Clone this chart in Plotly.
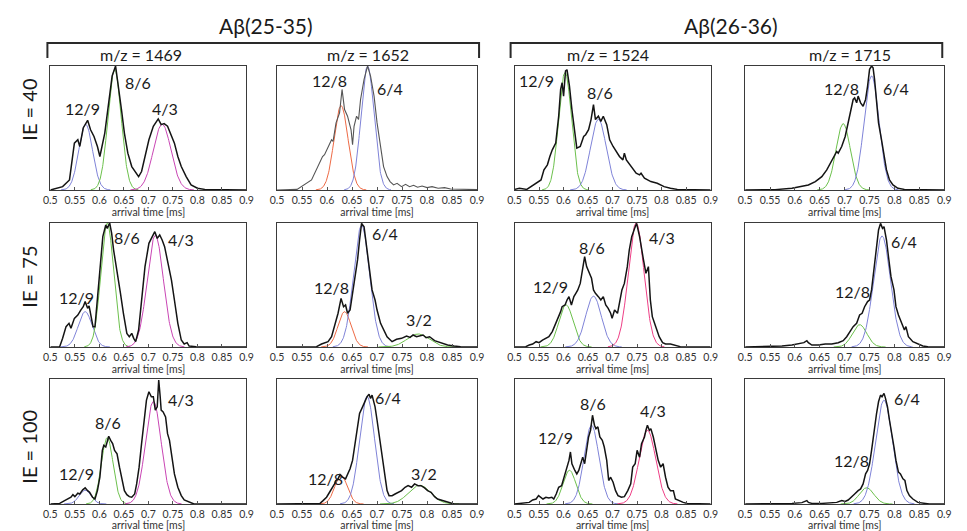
import numpy as np
import plotly.graph_objects as go

# ---------------------------------------------------------------------------
# Arrival-time distributions (normalised intensity) for each peptide / m/z
# and each injection energy (IE).
# ---------------------------------------------------------------------------
t_1469_ie40 = [0.500, 0.512, 0.525, 0.539, 0.549, 0.556, 0.560, 0.567, 0.576, 0.582, 0.589, 0.596, 0.601,
               0.611, 0.619, 0.626, 0.633, 0.639, 0.645, 0.651, 0.658, 0.666, 0.676, 0.680, 0.686, 0.693,
               0.701, 0.710, 0.720, 0.726, 0.732, 0.739, 0.747, 0.753, 0.760, 0.767, 0.777, 0.787, 0.800,
               0.815, 0.900]
i_1469_ie40 = [0.0, 0.014, 0.027, 0.081, 0.378, 0.405, 0.351, 0.50, 0.562, 0.486, 0.432, 0.351, 0.27,
               0.459, 0.73, 0.919, 1.0, 0.838, 0.649, 0.459, 0.297, 0.189, 0.135, 0.108, 0.149, 0.27,
               0.405, 0.514, 0.573, 0.527, 0.535, 0.514, 0.432, 0.378, 0.27, 0.189, 0.108, 0.041, 0.014,
               0.005, 0.0]

t_1652_ie40 = [0.500, 0.540, 0.569, 0.582, 0.591, 0.595, 0.602, 0.609, 0.612, 0.618, 0.625, 0.630, 0.635,
               0.641, 0.648, 0.651, 0.654, 0.659, 0.663, 0.667, 0.674, 0.681, 0.687, 0.694, 0.700, 0.707,
               0.713, 0.720, 0.726, 0.733, 0.740, 0.749, 0.757, 0.765, 0.773, 0.781, 0.790, 0.800, 0.810,
               0.822, 0.835, 0.847, 0.870, 0.900]
i_1652_ie40 = [0.0, 0.005, 0.081, 0.189, 0.27, 0.284, 0.351, 0.405, 0.392, 0.541, 0.622, 0.811, 0.649,
               0.595, 0.486, 0.365, 0.514, 0.595, 0.568, 0.73, 0.892, 1.0, 0.919, 0.757, 0.541, 0.351,
               0.189, 0.108, 0.068, 0.041, 0.054, 0.027, 0.046, 0.027, 0.038, 0.022, 0.032, 0.019, 0.027,
               0.014, 0.019, 0.008, 0.005, 0.003]

t_1524_ie40 = [0.500, 0.510, 0.525, 0.540, 0.547, 0.554, 0.560, 0.567, 0.572, 0.577, 0.584, 0.590, 0.594,
               0.597, 0.600, 0.604, 0.607, 0.612, 0.617, 0.624, 0.627, 0.634, 0.641, 0.645, 0.651, 0.656,
               0.661, 0.665, 0.671, 0.676, 0.681, 0.688, 0.694, 0.701, 0.708, 0.714, 0.721, 0.724, 0.728,
               0.735, 0.741, 0.748, 0.755, 0.758, 0.765, 0.778, 0.791, 0.805, 0.818, 0.832, 0.900]
i_1524_ie40 = [0.005, 0.014, 0.005, 0.041, 0.059, 0.081, 0.162, 0.203, 0.27, 0.324, 0.378, 0.595, 0.811,
               0.865, 0.757, 0.96, 0.97, 0.838, 0.649, 0.459, 0.338, 0.351, 0.432, 0.446, 0.486, 0.568,
               0.689, 0.568, 0.595, 0.554, 0.595, 0.527, 0.405, 0.351, 0.311, 0.27, 0.243, 0.297, 0.243,
               0.203, 0.176, 0.135, 0.122, 0.135, 0.095, 0.068, 0.054, 0.027, 0.014, 0.005, 0.0]

t_1715_ie40 = [0.500, 0.560, 0.594, 0.614, 0.627, 0.641, 0.654, 0.664, 0.671, 0.677, 0.684, 0.687, 0.694,
               0.701, 0.707, 0.712, 0.717, 0.720, 0.724, 0.727, 0.732, 0.737, 0.742, 0.746, 0.750, 0.754,
               0.757, 0.760, 0.764, 0.768, 0.774, 0.779, 0.784, 0.790, 0.797, 0.807, 0.820, 0.900]
i_1715_ie40 = [0.0, 0.003, 0.014, 0.027, 0.041, 0.068, 0.108, 0.162, 0.216, 0.27, 0.311, 0.297, 0.351,
               0.432, 0.541, 0.622, 0.73, 0.743, 0.703, 0.757, 0.703, 0.676, 0.73, 0.838, 0.973, 1.0,
               0.986, 0.892, 0.73, 0.541, 0.405, 0.27, 0.162, 0.081, 0.041, 0.014, 0.005, 0.0]

t_1469_ie75 = [0.500, 0.519, 0.525, 0.532, 0.538, 0.542, 0.549, 0.556, 0.562, 0.567, 0.571, 0.576, 0.579,
               0.582, 0.587, 0.591, 0.596, 0.601, 0.607, 0.613, 0.616, 0.621, 0.625, 0.629, 0.636, 0.643,
               0.649, 0.656, 0.661, 0.666, 0.670, 0.674, 0.680, 0.686, 0.693, 0.701, 0.708, 0.713, 0.718,
               0.723, 0.728, 0.733, 0.740, 0.747, 0.753, 0.760, 0.767, 0.773, 0.779, 0.783, 0.797, 0.900]
i_1469_ie75 = [0.0, 0.003, 0.07, 0.164, 0.191, 0.151, 0.231, 0.258, 0.298, 0.325, 0.366, 0.312, 0.331,
               0.258, 0.164, 0.164, 0.379, 0.648, 0.89, 0.984, 0.957, 1.0, 0.917, 0.782, 0.621, 0.433,
               0.272, 0.11, 0.083, 0.11, 0.07, 0.043, 0.137, 0.379, 0.648, 0.836, 0.89, 0.93, 0.876,
               0.903, 0.863, 0.809, 0.675, 0.54, 0.379, 0.191, 0.056, 0.024, 0.035, 0.008, 0.003, 0.0]

t_1652_ie75 = [0.500, 0.560, 0.579, 0.589, 0.595, 0.602, 0.609, 0.615, 0.622, 0.628, 0.633, 0.637, 0.641,
               0.646, 0.651, 0.656, 0.661, 0.665, 0.669, 0.674, 0.679, 0.684, 0.690, 0.696, 0.700, 0.707,
               0.713, 0.720, 0.730, 0.739, 0.749, 0.759, 0.766, 0.772, 0.779, 0.785, 0.792, 0.798, 0.805,
               0.815, 0.828, 0.841, 0.854, 0.867, 0.900]
i_1652_ie75 = [0.0, 0.003, 0.003, 0.024, 0.035, 0.043, 0.083, 0.164, 0.272, 0.392, 0.325, 0.339, 0.272,
               0.298, 0.433, 0.567, 0.702, 0.863, 0.997, 0.97, 0.809, 0.621, 0.46, 0.379, 0.298, 0.191,
               0.137, 0.083, 0.043, 0.062, 0.07, 0.089, 0.078, 0.097, 0.083, 0.089, 0.097, 0.075, 0.083,
               0.051, 0.035, 0.016, 0.008, 0.003, 0.0]

t_1524_ie75 = [0.500, 0.523, 0.530, 0.537, 0.544, 0.550, 0.557, 0.564, 0.570, 0.577, 0.584, 0.589, 0.594,
               0.597, 0.603, 0.607, 0.611, 0.616, 0.621, 0.625, 0.629, 0.634, 0.639, 0.643, 0.647, 0.652,
               0.657, 0.661, 0.665, 0.671, 0.676, 0.681, 0.686, 0.691, 0.696, 0.699, 0.704, 0.710, 0.714,
               0.719, 0.724, 0.730, 0.734, 0.739, 0.745, 0.749, 0.755, 0.759, 0.763, 0.768, 0.773, 0.777,
               0.781, 0.788, 0.795, 0.802, 0.808, 0.818, 0.828, 0.838, 0.900]
i_1524_ie75 = [0.0, 0.003, 0.016, 0.024, 0.043, 0.035, 0.056, 0.07, 0.083, 0.124, 0.191, 0.231, 0.285,
               0.325, 0.339, 0.379, 0.406, 0.339, 0.406, 0.433, 0.46, 0.513, 0.621, 0.728, 0.648, 0.594,
               0.554, 0.46, 0.433, 0.406, 0.379, 0.406, 0.339, 0.312, 0.272, 0.231, 0.298, 0.272, 0.352,
               0.46, 0.513, 0.648, 0.782, 0.89, 0.957, 0.997, 0.89, 0.782, 0.702, 0.594, 0.648, 0.379,
               0.245, 0.164, 0.083, 0.035, 0.024, 0.024, 0.016, 0.003, 0.0]

t_1715_ie75 = [0.500, 0.548, 0.574, 0.594, 0.608, 0.618, 0.624, 0.627, 0.634, 0.647, 0.661, 0.674, 0.687,
               0.697, 0.704, 0.710, 0.717, 0.724, 0.730, 0.735, 0.740, 0.746, 0.750, 0.754, 0.759, 0.764,
               0.768, 0.772, 0.776, 0.779, 0.784, 0.788, 0.793, 0.799, 0.803, 0.808, 0.813, 0.820, 0.823,
               0.828, 0.837, 0.847, 0.857, 0.867, 0.900]
i_1715_ie75 = [0.0, 0.003, 0.008, 0.016, 0.024, 0.035, 0.051, 0.035, 0.016, 0.016, 0.024, 0.024, 0.035,
               0.051, 0.083, 0.124, 0.164, 0.191, 0.258, 0.272, 0.325, 0.366, 0.379, 0.46, 0.621, 0.782,
               0.944, 0.997, 0.957, 0.97, 0.863, 0.728, 0.567, 0.46, 0.325, 0.258, 0.204, 0.137, 0.164,
               0.083, 0.043, 0.024, 0.008, 0.003, 0.0]

t_1469_ie100 = [0.500, 0.519, 0.529, 0.536, 0.542, 0.546, 0.550, 0.556, 0.560, 0.566, 0.571, 0.576, 0.580,
                0.586, 0.591, 0.596, 0.601, 0.606, 0.609, 0.613, 0.616, 0.619, 0.623, 0.627, 0.631, 0.636,
                0.641, 0.646, 0.651, 0.656, 0.661, 0.666, 0.672, 0.676, 0.681, 0.686, 0.692, 0.696, 0.701,
                0.706, 0.710, 0.714, 0.718, 0.721, 0.724, 0.726, 0.730, 0.735, 0.739, 0.743, 0.748, 0.753,
                0.760, 0.767, 0.773, 0.783, 0.793, 0.900]
i_1469_ie100 = [0.0, 0.005, 0.027, 0.04, 0.054, 0.075, 0.059, 0.086, 0.08, 0.113, 0.129, 0.107, 0.094,
                0.054, 0.04, 0.107, 0.214, 0.429, 0.469, 0.456, 0.509, 0.542, 0.509, 0.483, 0.429, 0.402,
                0.295, 0.188, 0.107, 0.075, 0.059, 0.054, 0.08, 0.161, 0.295, 0.483, 0.697, 0.831, 0.898,
                0.858, 0.858, 0.751, 0.777, 0.992, 0.858, 0.751, 0.737, 0.697, 0.563, 0.509, 0.375, 0.241,
                0.134, 0.067, 0.032, 0.013, 0.0, 0.0]

t_1652_ie100 = [0.500, 0.570, 0.586, 0.592, 0.599, 0.605, 0.612, 0.615, 0.618, 0.622, 0.626, 0.631, 0.637,
                0.641, 0.646, 0.651, 0.656, 0.661, 0.665, 0.671, 0.676, 0.680, 0.684, 0.687, 0.690, 0.696,
                0.700, 0.705, 0.710, 0.716, 0.720, 0.724, 0.730, 0.736, 0.743, 0.749, 0.756, 0.762, 0.769,
                0.775, 0.782, 0.788, 0.795, 0.801, 0.808, 0.815, 0.821, 0.831, 0.841, 0.854, 0.900]
i_1652_ie100 = [0.0, 0.003, 0.005, 0.027, 0.054, 0.094, 0.134, 0.161, 0.188, 0.201, 0.236, 0.214, 0.201,
                0.241, 0.282, 0.349, 0.483, 0.617, 0.724, 0.777, 0.831, 0.858, 0.879, 0.845, 0.871, 0.777,
                0.67, 0.536, 0.402, 0.241, 0.107, 0.067, 0.067, 0.08, 0.094, 0.107, 0.134, 0.147, 0.134,
                0.161, 0.147, 0.147, 0.129, 0.107, 0.094, 0.059, 0.04, 0.027, 0.013, 0.0, 0.0]

t_1524_ie100 = [0.500, 0.517, 0.530, 0.537, 0.544, 0.549, 0.554, 0.558, 0.564, 0.570, 0.576, 0.580, 0.585,
                0.590, 0.596, 0.601, 0.605, 0.611, 0.614, 0.617, 0.623, 0.627, 0.631, 0.635, 0.639, 0.643,
                0.647, 0.651, 0.655, 0.659, 0.663, 0.666, 0.670, 0.674, 0.679, 0.683, 0.688, 0.692, 0.696,
                0.701, 0.706, 0.711, 0.718, 0.724, 0.731, 0.737, 0.741, 0.746, 0.750, 0.755, 0.759, 0.765,
                0.768, 0.771, 0.775, 0.778, 0.783, 0.788, 0.793, 0.798, 0.803, 0.808, 0.813, 0.818, 0.824,
                0.828, 0.835, 0.844, 0.852, 0.900]
i_1524_ie100 = [0.0, 0.005, 0.013, 0.032, 0.04, 0.067, 0.054, 0.04, 0.054, 0.048, 0.054, 0.04, 0.08,
                0.134, 0.147, 0.214, 0.268, 0.349, 0.416, 0.322, 0.268, 0.241, 0.268, 0.322, 0.375, 0.322,
                0.429, 0.536, 0.59, 0.71, 0.63, 0.603, 0.617, 0.536, 0.509, 0.456, 0.349, 0.188, 0.214,
                0.174, 0.107, 0.067, 0.054, 0.059, 0.107, 0.161, 0.295, 0.322, 0.429, 0.375, 0.483, 0.536,
                0.59, 0.63, 0.59, 0.603, 0.536, 0.429, 0.349, 0.295, 0.322, 0.214, 0.134, 0.107, 0.107,
                0.04, 0.027, 0.013, 0.005, 0.0]

t_1715_ie100 = [0.500, 0.561, 0.594, 0.614, 0.624, 0.627, 0.634, 0.654, 0.674, 0.684, 0.694, 0.701, 0.707,
                0.714, 0.720, 0.727, 0.732, 0.737, 0.742, 0.746, 0.750, 0.754, 0.759, 0.764, 0.768, 0.772,
                0.775, 0.779, 0.782, 0.786, 0.790, 0.795, 0.799, 0.803, 0.808, 0.812, 0.817, 0.821, 0.825,
                0.830, 0.837, 0.847, 0.857, 0.870, 0.900]
i_1715_ie100 = [0.0, 0.0, 0.005, 0.011, 0.027, 0.013, 0.005, 0.005, 0.011, 0.013, 0.027, 0.021, 0.032,
                0.054, 0.08, 0.107, 0.121, 0.161, 0.241, 0.268, 0.322, 0.429, 0.59, 0.724, 0.818, 0.871,
                0.858, 0.885, 0.845, 0.777, 0.67, 0.563, 0.456, 0.349, 0.255, 0.241, 0.201, 0.188, 0.107,
                0.067, 0.04, 0.013, 0.005, 0.0, 0.0]

# Gaussian fit components: (conformer, centre [ms], sigma [ms], amplitude)
fit_1469_ie40 = [("12/9", 0.572, 0.014, 0.53), ("8/6", 0.631, 0.0135, 0.97), ("4/3", 0.728, 0.018, 0.53)]
fit_1652_ie40 = [("12/8", 0.628, 0.014, 0.68), ("6/4", 0.681, 0.013, 1.0)]
fit_1524_ie40 = [("12/9", 0.603, 0.013, 0.95), ("8/6", 0.671, 0.016, 0.57)]
fit_1715_ie40 = [("12/8", 0.697, 0.0145, 0.535), ("6/4", 0.754, 0.015, 0.92)]
fit_1469_ie75 = [("12/9", 0.571, 0.014, 0.285), ("8/6", 0.616, 0.013, 1.0), ("4/3", 0.714, 0.0165, 0.90)]
fit_1652_ie75 = [("12/8", 0.635, 0.013, 0.285), ("6/4", 0.669, 0.016, 0.98), ("3/2", 0.782, 0.022, 0.105)]
fit_1524_ie75 = [("12/9", 0.605, 0.0145, 0.34), ("8/6", 0.661, 0.016, 0.41), ("4/3", 0.748, 0.016, 1.0)]
fit_1715_ie75 = [("12/8", 0.730, 0.0145, 0.18), ("6/4", 0.775, 0.017, 0.895)]
fit_1469_ie100 = [("12/9", 0.571, 0.012, 0.11), ("8/6", 0.616, 0.012, 0.53), ("4/3", 0.710, 0.016, 0.82)]
fit_1652_ie100 = [("12/8", 0.628, 0.0125, 0.23), ("6/4", 0.680, 0.015, 0.86), ("3/2", 0.785, 0.022, 0.15)]
fit_1524_ie100 = [("12/9", 0.612, 0.013, 0.27), ("8/6", 0.657, 0.015, 0.63), ("4/3", 0.771, 0.017, 0.59)]
fit_1715_ie100 = [("12/8", 0.744, 0.0145, 0.13), ("6/4", 0.779, 0.017, 0.83)]

peptides = ["Aβ(25-35)", "Aβ(26-36)"]
mz_values = [1469, 1652, 1524, 1715]
energies = [40, 75, 100]
tick_vals = [0.5, 0.55, 0.6, 0.65, 0.7, 0.75, 0.8, 0.85, 0.9]
tick_text = ["0.5", "0.55", "0.6", "0.65", "0.7", "0.75", "0.8", "0.85", "0.9"]

spectra = [
    [(t_1469_ie40, i_1469_ie40, fit_1469_ie40), (t_1652_ie40, i_1652_ie40, fit_1652_ie40),
     (t_1524_ie40, i_1524_ie40, fit_1524_ie40), (t_1715_ie40, i_1715_ie40, fit_1715_ie40)],
    [(t_1469_ie75, i_1469_ie75, fit_1469_ie75), (t_1652_ie75, i_1652_ie75, fit_1652_ie75),
     (t_1524_ie75, i_1524_ie75, fit_1524_ie75), (t_1715_ie75, i_1715_ie75, fit_1715_ie75)],
    [(t_1469_ie100, i_1469_ie100, fit_1469_ie100), (t_1652_ie100, i_1652_ie100, fit_1652_ie100),
     (t_1524_ie100, i_1524_ie100, fit_1524_ie100), (t_1715_ie100, i_1715_ie100, fit_1715_ie100)],
]

# ---------------------------------------------------------------------------
# Styling / layout
# ---------------------------------------------------------------------------
W, H = 967, 531
FONT = "Lato"
BLUE, GREEN, MAGENTA, ORANGE, PINK = "#7f83d8", "#6cc04c", "#c945b4", "#ee6a45", "#ee3f86"
fit_colors = [[BLUE, GREEN, MAGENTA], [ORANGE, BLUE, GREEN], [GREEN, BLUE, PINK], [GREEN, BLUE]]
col_px = [(44, 243), (274, 477), (515, 714), (749, 951)]
row_px = [(66, 190), (223, 347), (379, 504)]

# label anchor points (data coordinates within each panel), per row / column
label_pos = [
    [[(0.566, 0.66), (0.679, 0.87), (0.733, 0.66)], [(0.604, 0.887), (0.725, 0.82)],
     [(0.544, 0.887), (0.675, 0.79)], [(0.694, 0.82), (0.803, 0.82)]],
    [[(0.554, 0.40), (0.657, 0.887), (0.767, 0.863)], [(0.608, 0.476), (0.715, 0.919), (0.784, 0.218)],
     [(0.574, 0.484), (0.657, 0.806), (0.801, 0.887)], [(0.716, 0.444), (0.819, 0.847)]],
    [[(0.554, 0.248), (0.617, 0.656), (0.767, 0.84)], [(0.597, 0.208), (0.721, 0.856), (0.794, 0.248)],
     [(0.584, 0.536), (0.661, 0.808), (0.783, 0.752)], [(0.714, 0.352), (0.825, 0.848)]],
]

fig = go.Figure()
annotations = []
layout_axes = {}


def label(x, y, text, size, xref="paper", yref="paper", angle=0):
    return dict(x=x, y=y, xref=xref, yref=yref, text=text, showarrow=False, textangle=angle,
                xanchor="center", yanchor="middle",
                font=dict(family=FONT, size=size, color="#1a1a1a"))


for r, row in enumerate(spectra):
    for c, (t, inten, fits) in enumerate(row):
        k = r * 4 + c + 1
        suffix = "" if k == 1 else str(k)
        xa, ya = "x" + suffix, "y" + suffix

        # Gaussian components
        for j, (name, mu, sig, amp) in enumerate(fits):
            xg = np.linspace(mu - 3.6 * sig, mu + 3.6 * sig, 150)
            yg = amp * np.exp(-0.5 * ((xg - mu) / sig) ** 2)
            fig.add_trace(go.Scatter(x=xg, y=yg, mode="lines", xaxis=xa, yaxis=ya,
                                     line=dict(color=fit_colors[c][j], width=1),
                                     showlegend=False, hoverinfo="skip"))
            lx, ly = label_pos[r][c][j]
            annotations.append(label(lx, ly, name, 16, xref=xa, yref=ya))

        # measured arrival-time distribution
        gray = (r == 0 and c == 1)
        fig.add_trace(go.Scatter(x=t, y=inten, mode="lines", xaxis=xa, yaxis=ya,
                                 line=dict(color="#555555" if gray else "#141414",
                                           width=1.1 if gray else 1.5),
                                 showlegend=False))

        x0, x1 = col_px[c]
        y0, y1 = row_px[r]
        frame = dict(showline=True, mirror=True, linecolor="#3a3a3a", linewidth=1.3,
                     showgrid=False, zeroline=False)
        layout_axes["xaxis" + suffix] = dict(
            domain=[x0 / W, x1 / W], anchor=ya, range=[0.5, 0.9],
            tickvals=tick_vals, ticktext=tick_text, ticks="inside", ticklen=3,
            tickcolor="#555", tickfont=dict(family=FONT, size=10.5, color="#333"),
            title=dict(text="arrival time [ms]", font=dict(family=FONT, size=10.5, color="#333"),
                       standoff=0),
            **frame)
        layout_axes["yaxis" + suffix] = dict(
            domain=[1 - y1 / H, 1 - y0 / H], anchor=xa, range=[0, 1.0],
            showticklabels=False, ticks="", **frame)

# peptide titles, m/z headers and energy labels
for name, cx in zip(peptides, [263, 735]):
    annotations.append(label(cx / W, 1 - 25 / H, name, 21))
for mz, cx in zip(mz_values, [136, 366, 610, 855]):
    annotations.append(label(cx / W, 1 - 55 / H, f"m/z = {mz}", 16))
for ie, cy in zip(energies, [110, 277, 447]):
    annotations.append(label(22 / W, 1 - cy / H, f"IE = {ie}", 20, angle=-90))

shapes = []
for bx0, bx1 in [(41, 479), (511, 949)]:
    path = (f"M {bx0 / W} {1 - 58 / H} L {bx0 / W} {1 - 43 / H} "
            f"L {bx1 / W} {1 - 43 / H} L {bx1 / W} {1 - 58 / H}")
    shapes.append(dict(type="path", path=path, xref="paper", yref="paper",
                       line=dict(color="#2a2a2a", width=2)))

fig.update_layout(
    width=W, height=H, margin=dict(l=0, r=0, t=0, b=0),
    paper_bgcolor="white", plot_bgcolor="white",
    annotations=annotations, shapes=shapes, showlegend=False,
    **layout_axes,
)

# the page body keeps no default margin so the figure fills the window exactly
fig.write_html("out.html", post_script="document.body.style.margin='0';")
